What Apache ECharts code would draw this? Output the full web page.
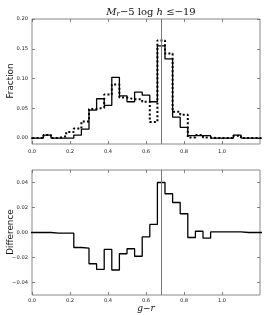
<!DOCTYPE html>
<html><head><meta charset="utf-8">
<script src="https://cdn.jsdelivr.net/npm/echarts@6/dist/echarts.min.js"></script>
<style>html,body{margin:0;padding:0;background:#fff}#c{width:264px;height:315px}</style>
</head><body><div id="c"></div>
<script>
// bin centers (bin width 0.04)
const binCenters = [0.00,0.04,0.08,0.12,0.16,0.20,0.24,0.28,0.32,0.36,0.40,0.44,0.48,0.52,0.56,0.60,0.64,0.68,0.72,0.76,0.80,0.84,0.88,0.92,0.96,1.00,1.04,1.08,1.12,1.16,1.20];
const binWidth = 0.04;
const fractionSolid = [0,0,0.005,0,0,0,0.005,0.015,0.047,0.066,0.055,0.102,0.071,0.061,0.077,0.072,0.061,0.155,0.133,0.035,0.018,0.004,0.004,0.004,0,0,0,0.005,0,0,0];
const fractionDashed = [0,0,0.005,0,0.003,0.010,0.016,0.028,0.049,0.051,0.073,0.090,0.068,0.065,0.065,0.061,0.027,0.164,0.142,0.044,0.039,0.001,0.005,0.001,0,0,0,0.004,0,0,0];
const difference = [0,0,0,-0.0005,-0.0005,-0.0005,-0.012,-0.0125,-0.025,-0.0295,-0.0135,-0.030,-0.017,-0.013,-0.019,-0.0035,0.0065,0.040,0.031,0.024,0.015,-0.004,0.001,-0.0045,0.0005,0.0005,0.0005,0.0005,0,0,0];
const refLine = 0.68;
const xTicks = [0,0.2,0.4,0.6,0.8,1.0];
const yTicksTop = [0,0.05,0.10,0.15,0.20];
const yTicksBottom = [-0.04,-0.02,0,0.02,0.04];
const yNameTop = 'Fraction';
const yNameBottom = 'Difference';

function steps(vals){
  const pts = binCenters.map((c,i)=>[c-binWidth/2, vals[i]]);
  pts.push([binCenters[binCenters.length-1]+binWidth/2, vals[vals.length-1]]);
  return pts;
}
const lblFont = {fontFamily:'DejaVu Sans', fontSize:5.2, color:'#222'};
const fmt = v => (v<0?'\u2212':'') + Math.abs(v).toFixed(2);
const fmtX = v => v.toFixed(1);
function xAx(g, pos, show){
  return {type:'value', gridIndex:g, position:pos, min:0, max:1.2,
    axisLine:{show:false, onZero:false}, splitLine:{show:false},
    axisTick:{show:true, inside:true, length:3, lineStyle:{color:'#666',width:0.8}, customValues:xTicks},
    axisLabel:{show:show, customValues:xTicks, formatter:fmtX, margin:5, ...lblFont}};
}
function yAx(g, pos, show, min, max, ticks){
  return {type:'value', gridIndex:g, position:pos, min:min, max:max,
    axisLine:{show:false, onZero:false}, splitLine:{show:false},
    axisTick:{show:true, inside:true, length:3, lineStyle:{color:'#666',width:0.8}, customValues:ticks},
    axisLabel:{show:show, customValues:ticks, formatter:fmt, margin:4, ...lblFont}};
}
const chart = echarts.init(document.getElementById('c'), null, {renderer:'canvas'});
const xB = xAx(1,'bottom',true);
xB.axisLabel.margin=3;
xB.name='{i|g}{n|\u2212}{i|r}'; xB.nameLocation='middle'; xB.nameGap=9;
xB.nameTextStyle={rich:{i:{fontFamily:'DejaVu Serif',fontStyle:'italic',fontSize:9,color:'#111'},n:{fontFamily:'DejaVu Serif',fontSize:9,color:'#111'}}};
const vline = {silent:true, symbol:'none', label:{show:false}, lineStyle:{color:'#777',width:1,type:'solid'}, data:[{xAxis:refLine}]};
const gridBase = {left:32, right:4, height:125, show:true, borderColor:'#888', borderWidth:1, backgroundColor:'transparent', containLabel:false, outerBoundsMode:'none'};
const nameStyle = {fontFamily:'DejaVu Sans', fontSize:8.8, fill:'#111', textAlign:'center', textVerticalAlign:'middle'};
chart.setOption({
  animation:false,
  title:{text:'{i|M}{s|r}{n|\u22125 log }{i|h}{n| \u2264\u221219}', left:146, textAlign:'center', top:2,
    textStyle:{fontWeight:'normal', rich:{i:{fontFamily:'DejaVu Serif',fontStyle:'italic',fontWeight:'normal',fontSize:10,color:'#111'},
      s:{fontFamily:'DejaVu Serif',fontStyle:'italic',fontWeight:'normal',fontSize:7,color:'#111',verticalAlign:'bottom',padding:[4,0,0,0]},
      n:{fontFamily:'DejaVu Serif',fontWeight:'normal',fontSize:10,color:'#111'}}}},
  graphic:[
    {type:'text', x:11, y:81, rotation:Math.PI/2, style:Object.assign({text:yNameTop}, nameStyle)},
    {type:'text', x:11, y:232, rotation:Math.PI/2, style:Object.assign({text:yNameBottom}, nameStyle)}
  ],
  grid:[
    Object.assign({top:19}, gridBase),
    Object.assign({top:170}, gridBase)
  ],
  xAxis:[xAx(0,'bottom',true), xAx(0,'top',false), xB, xAx(1,'top',false)],
  yAxis:[yAx(0,'left',true,-0.01,0.20,yTicksTop), yAx(0,'right',false,-0.01,0.20,yTicksTop), yAx(1,'left',true,-0.05,0.05,yTicksBottom), yAx(1,'right',false,-0.05,0.05,yTicksBottom)],
  series:[
    {type:'line', xAxisIndex:0, yAxisIndex:0, step:'end', data:steps(fractionSolid), showSymbol:false,
      lineStyle:{color:'#000', width:1.3}, markLine:vline, z:3},
    {type:'line', xAxisIndex:0, yAxisIndex:0, step:'end', data:steps(fractionDashed), showSymbol:false,
      lineStyle:{color:'#000', width:2, type:[2,2.2]}, z:4},
    {type:'line', xAxisIndex:2, yAxisIndex:2, step:'end', data:steps(difference), showSymbol:false,
      lineStyle:{color:'#000', width:1.3}, markLine:vline, z:3}
  ]
});
</script></body></html>
